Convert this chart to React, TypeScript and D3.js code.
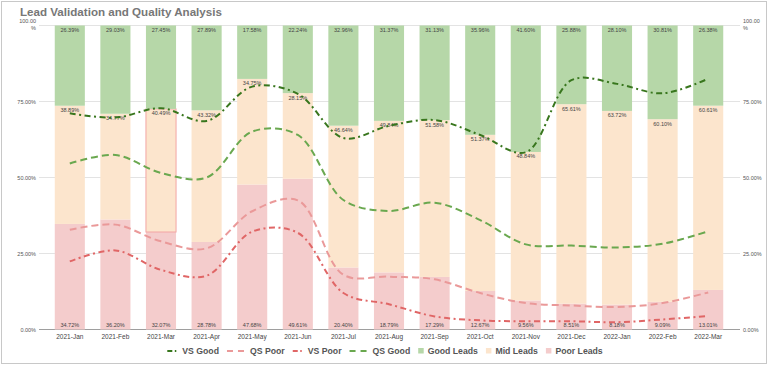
import { useEffect, useRef } from "react"
import * as d3 from "d3"

const months = [
  "2021-Jan", "2021-Feb", "2021-Mar", "2021-Apr", "2021-May", "2021-Jun", "2021-Jul", "2021-Aug",
  "2021-Sep", "2021-Oct", "2021-Nov", "2021-Dec", "2022-Jan", "2022-Feb", "2022-Mar",
]
const goodLeads = [26.39, 29.03, 27.45, 27.89, 17.58, 22.24, 32.96, 31.37, 31.13, 35.96, 41.6, 25.88, 28.1, 30.81, 26.38]
const midLeads = [38.89, 34.77, 40.49, 43.32, 34.75, 28.15, 46.64, 49.84, 51.58, 51.37, 48.84, 65.61, 63.72, 60.1, 60.61]
const poorLeads = [34.72, 36.2, 32.07, 28.78, 47.68, 49.61, 20.4, 18.79, 17.29, 12.67, 9.56, 8.51, 8.18, 9.09, 13.01]

const vsGood = [71.1, 69.7, 72.8, 68.6, 79.9, 77.5, 63.0, 67.0, 68.9, 64.0, 58.3, 82.0, 80.8, 77.7, 82.5]
const qsGood = [54.6, 57.4, 51.5, 50.0, 65.1, 64.0, 42.6, 39.0, 41.7, 36.0, 28.0, 27.6, 27.0, 28.2, 32.3]
const qsPoor = [32.8, 34.5, 29.0, 26.7, 38.9, 42.5, 18.0, 17.4, 16.5, 12.0, 8.7, 7.9, 7.4, 8.7, 12.2]
const vsPoor = [22.4, 26.0, 19.6, 17.7, 32.2, 31.8, 12.0, 8.3, 4.3, 3.0, 2.7, 2.7, 2.4, 3.3, 4.4]

const yTicks = [0, 25, 50, 75, 100]

const FONT = "'Liberation Sans', Arial, sans-serif"
const GOOD = "#b6d7a8"
const MID = "#fce5cd"
const POOR = "#f4cccc"

export default function App() {
  const svgRef = useRef<SVGSVGElement>(null)

  useEffect(() => {
    if (!svgRef.current) return
    const svg = d3.select(svgRef.current)
    svg.selectAll("*").remove()

    const width = 768
    const height = 369

    // frame
    svg.append("rect").attr("width", width).attr("height", height).attr("fill", "#fff")
    svg
      .append("rect")
      .attr("x", 1.5)
      .attr("y", 1.5)
      .attr("width", width - 3)
      .attr("height", 362)
      .attr("fill", "none")
      .attr("stroke", "#c8c8c8")

    // title
    svg
      .append("text")
      .attr("x", 20)
      .attr("y", 15.5)
      .style("font-family", FONT)
      .style("font-weight", "bold")
      .style("font-size", "11.6px")
      .style("fill", "#777")
      .text("Lead Validation and Quality Analysis")

    const x = d3.scaleBand().domain(months).range([47, 731]).paddingInner(0.34).paddingOuter(0.17)
    const y = d3.scaleLinear().domain([0, 100]).range([329.5, 25.5])
    const cx = (m: string) => (x(m) || 0) + x.bandwidth() / 2

    // gridlines
    svg
      .append("g")
      .selectAll("line")
      .data(yTicks)
      .enter()
      .append("line")
      .attr("x1", 39)
      .attr("x2", 740)
      .attr("y1", (d) => y(d))
      .attr("y2", (d) => y(d))
      .attr("stroke", (d) => (d === 0 ? "#9e9e9e" : "#e3e3e3"))
      .attr("stroke-width", 1)

    // y labels, both sides
    const fmtTick = (d: number) => d.toFixed(2) + "%"
    const sides = [
      { xPos: 36, anchor: "end" },
      { xPos: 743, anchor: "start" },
    ]
    sides.forEach((s) => {
      const g = svg.append("g")
      g.selectAll("text")
        .data(yTicks)
        .enter()
        .append("text")
        .attr("x", s.xPos)
        .attr("y", (d) => (d === 100 ? y(d) - 2.5 : y(d) + 2))
        .attr("text-anchor", s.anchor)
        .style("font-family", FONT)
        .style("font-size", "5.5px")
        .style("fill", "#555")
        .each(function (d) {
          const t = d3.select(this)
          if (d === 100) {
            t.append("tspan").attr("x", s.xPos).text("100.00")
            t.append("tspan").attr("x", s.xPos).attr("dy", "6.5").text("%")
          } else {
            t.text(fmtTick(d))
          }
        })
    })

    // stacked bars
    const rows = months.map((m, i) => ({ month: m, poor: poorLeads[i], mid: midLeads[i], good: goodLeads[i] }))
    const keys = ["poor", "mid", "good"]
    const colors: Record<string, string> = { poor: POOR, mid: MID, good: GOOD }
    const stack = d3.stack<any>().keys(keys)(rows)

    const barG = svg.append("g")
    stack.forEach((layer) => {
      barG
        .append("g")
        .selectAll("rect")
        .data(layer)
        .enter()
        .append("rect")
        .attr("x", (d: any) => x(d.data.month) || 0)
        .attr("width", x.bandwidth())
        .attr("y", (d: any) => y(d[1]))
        .attr("height", (d: any) => y(d[0]) - y(d[1]))
        .attr("fill", colors[layer.key])
        .attr("stroke", (d: any) => (layer.key === "mid" && d.data.month === "2021-Mar" ? "#f3a5a5" : "none"))
        .attr("stroke-width", 1)
    })

    // bar labels
    const labelG = svg.append("g").style("font-family", FONT).style("font-size", "5.5px").style("fill", "#444")
    stack.forEach((layer) => {
      labelG
        .append("g")
        .selectAll("text")
        .data(layer)
        .enter()
        .append("text")
        .attr("x", (d: any) => cx(d.data.month))
        .attr("y", (d: any) => {
          if (layer.key === "poor") return y(0) - 3
          return y(d[1]) + 6.5
        })
        .attr("text-anchor", "middle")
        .text((d: any) => (d.data[layer.key] as number).toFixed(2) + "%")
    })

    // lines
    const seriesLines = [
      { name: "VS Good", values: vsGood, color: "#38761d", dash: "6,3.5,2,3.5" },
      { name: "QS Poor", values: qsPoor, color: "#ea9999", dash: "7,4" },
      { name: "VS Poor", values: vsPoor, color: "#e06666", dash: "6,3.5,2,3.5" },
      { name: "QS Good", values: qsGood, color: "#6aa84f", dash: "7,4" },
    ]
    const line = d3
      .line<number>()
      .x((_, i) => cx(months[i]))
      .y((d) => y(d))
      .curve(d3.curveCatmullRom.alpha(0.5))

    const lineG = svg.append("g")
    ;[seriesLines[3], seriesLines[1], seriesLines[2], seriesLines[0]].forEach((s) => {
      lineG
        .append("path")
        .datum(s.values)
        .attr("fill", "none")
        .attr("stroke", s.color)
        .attr("stroke-width", 2)
        .attr("stroke-dasharray", s.dash)
        .attr("d", line)
    })

    // x axis labels
    const xAxis = svg
      .append("g")
      .attr("transform", `translate(0,${y(0)})`)
      .call(d3.axisBottom(x).tickSize(0).tickPadding(5))
    xAxis.select(".domain").remove()
    xAxis.selectAll("text").style("font-family", FONT).style("font-size", "6.5px").style("fill", "#444")

    // legend
    const legendItems = [
      ...seriesLines.map((s) => ({ name: s.name, color: s.color, dash: s.dash, kind: "line" })),
      { name: "Good Leads", color: GOOD, dash: "", kind: "box" },
      { name: "Mid Leads", color: MID, dash: "", kind: "box" },
      { name: "Poor Leads", color: POOR, dash: "", kind: "box" },
    ]
    const legend = svg.append("g")
    const ly = 351
    const itemGap = 8
    let cursor = 0
    legendItems.forEach((it) => {
      const g = legend.append("g").attr("transform", `translate(${cursor},0)`)
      let sw = 0
      if (it.kind === "line") {
        const isDot = it.dash.split(",").length > 2
        sw = isDot ? 9 : 17
        g.append("line")
          .attr("x1", 0)
          .attr("x2", sw)
          .attr("y1", ly)
          .attr("y2", ly)
          .attr("stroke", it.color)
          .attr("stroke-width", 2)
          .attr("stroke-dasharray", isDot ? "5,2.5,1.5,20" : "6,5")
        sw += 6
      } else {
        g.append("rect").attr("x", 0).attr("y", ly - 3).attr("width", 5.5).attr("height", 5.5).attr("fill", it.color)
        sw = 9.5
      }
      const t = g
        .append("text")
        .attr("x", sw)
        .attr("y", ly + 3.1)
        .style("font-family", FONT)
        .style("font-weight", "bold")
        .style("font-size", "8.7px")
        .style("fill", "#555")
        .text(it.name)
      const tw = (t.node() as SVGTextElement).getComputedTextLength()
      cursor += sw + tw + itemGap
    })
    const totalW = cursor - itemGap
    legend.attr("transform", `translate(${385 - totalW / 2},0)`)
  }, [])

  return <svg ref={svgRef} width={768} height={369} style={{ position: "absolute", left: 0, top: 0 }} />
}
